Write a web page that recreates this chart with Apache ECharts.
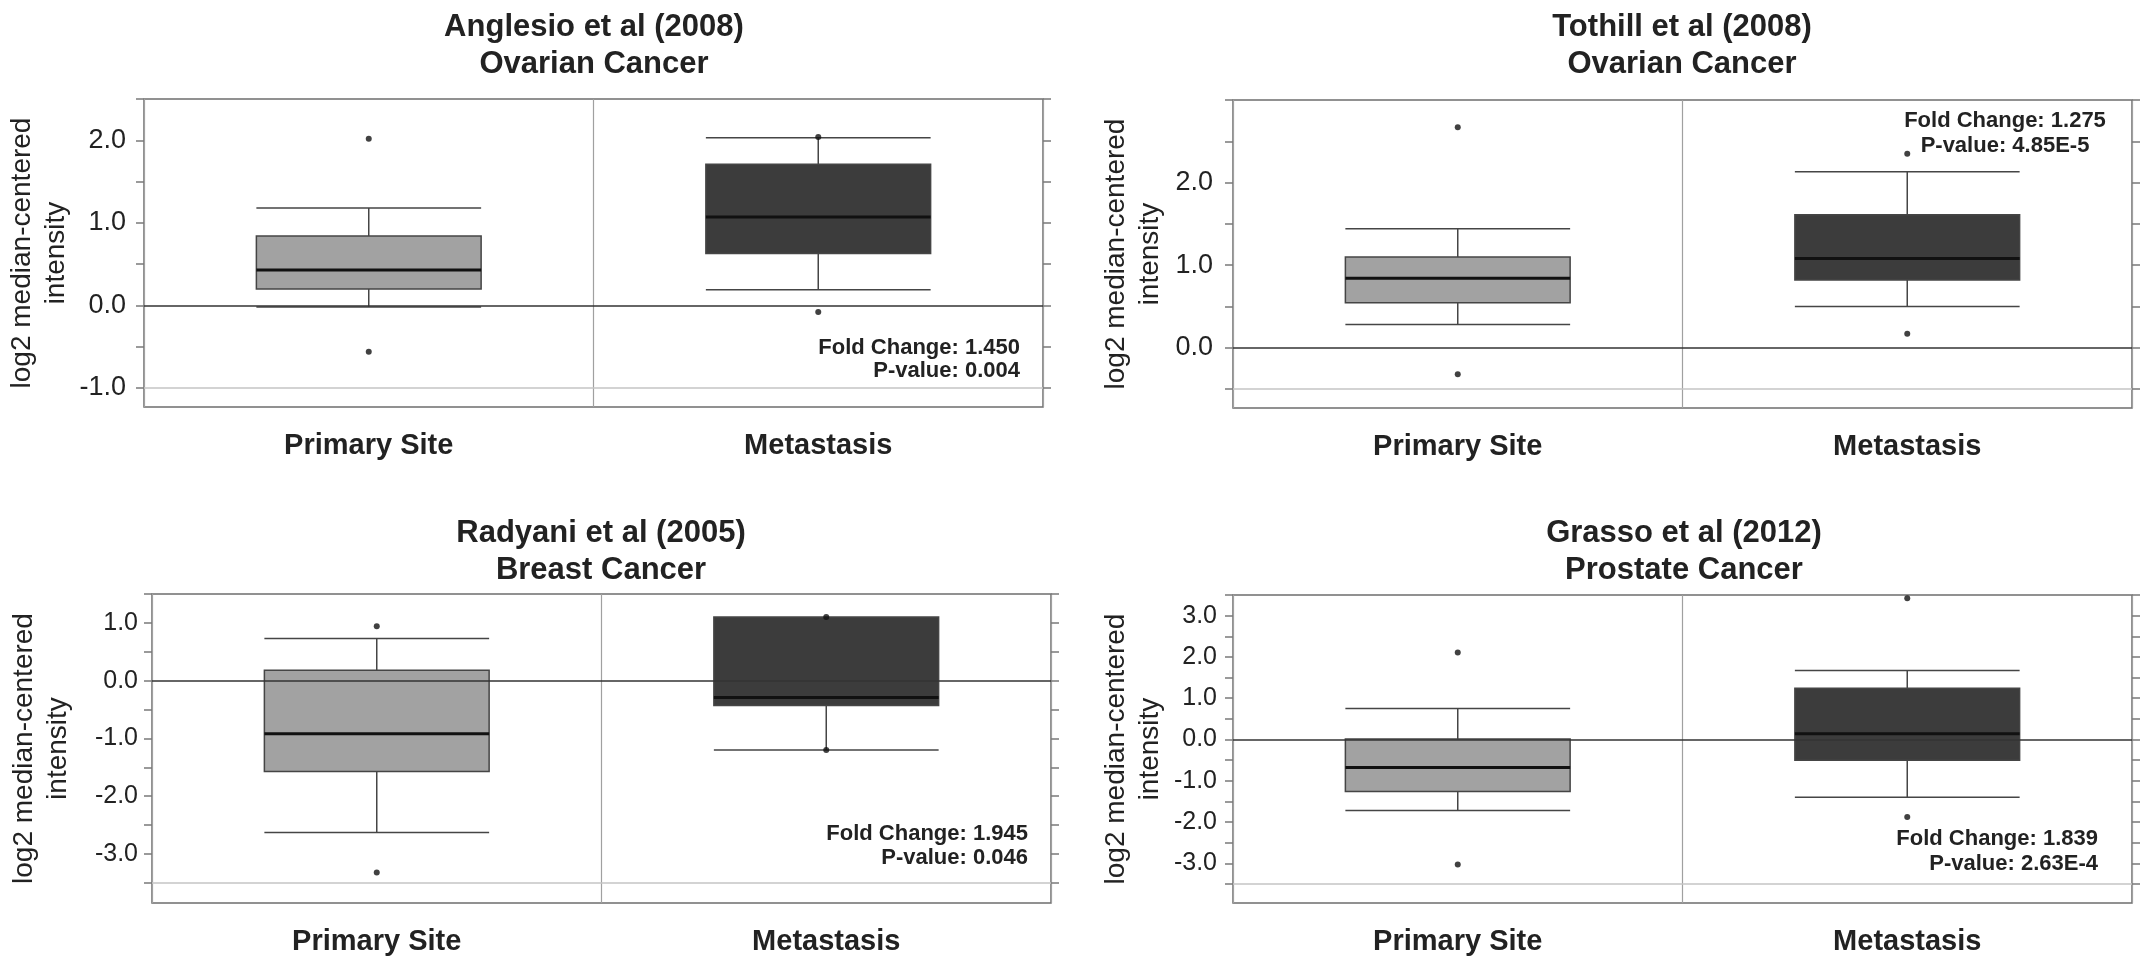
<!DOCTYPE html>
<html>
<head>
<meta charset="utf-8">
<script src="https://cdn.jsdelivr.net/npm/echarts@6/dist/echarts.min.js"></script>
<style>
  html, body { margin: 0; padding: 0; background: #ffffff; }
  #chart { width: 2150px; height: 972px; }
</style>
</head>
<body>
<div id="chart"></div>
<script>
// ---------------- data ----------------
const categories = ['Primary Site', 'Metastasis'];
const panelTitles = [
  'Anglesio et al (2008)\nOvarian Cancer',
  'Tothill et al (2008)\nOvarian Cancer',
  'Radyani et al (2005)\nBreast Cancer',
  'Grasso et al (2012)\nProstate Cancer'
];
// box values: [lower whisker, Q1, median, Q3, upper whisker]
const anglesioBoxes = [[-0.02, 0.20, 0.43, 0.84, 1.18], [0.19, 0.63, 1.07, 1.71, 2.03]];
const anglesioOutliers = [[0, 2.02], [0, -0.56], [1, 2.04], [1, -0.08]];
const tothillBoxes = [[0.28, 0.545, 0.84, 1.10, 1.44], [0.50, 0.82, 1.08, 1.61, 2.13]];
const tothillOutliers = [[0, 2.67], [0, -0.32], [1, 2.35], [1, 0.17]];
const radyaniBoxes = [[-2.63, -1.575, -0.92, 0.18, 0.73], [-1.20, -0.43, -0.29, 1.10, 1.10]];
const radyaniOutliers = [[0, 0.94], [0, -3.32], [1, 1.10], [1, -1.20]];
const grassoBoxes = [[-1.72, -1.26, -0.68, 0.01, 0.75], [-1.40, -0.50, 0.14, 1.24, 1.67]];
const grassoOutliers = [[0, 2.11], [0, -3.03], [1, 3.42], [1, -1.88]];

const foldChanges = ['1.450', '1.275', '1.945', '1.839'];
const pValues = ['0.004', '4.85E-5', '0.046', '2.63E-4'];

const yMin = [-1.23, -0.73, -3.85, -3.96];
const yMax = [2.5, 3.0, 1.5, 3.5];
const yFloor = [-1.0, -0.5, -3.5, -3.5];
const tickValues = [
  [-1.0, -0.5, 0.0, 0.5, 1.0, 1.5, 2.0, 2.5],
  [-0.5, 0.0, 0.5, 1.0, 1.5, 2.0, 2.5, 3.0],
  [-3.5, -3.0, -2.5, -2.0, -1.5, -1.0, -0.5, 0.0, 0.5, 1.0, 1.5],
  [-3.5, -3.0, -2.5, -2.0, -1.5, -1.0, -0.5, 0.0, 0.5, 1.0, 1.5, 2.0, 2.5, 3.0, 3.5]
];
const labelValues = [
  [-1.0, 0.0, 1.0, 2.0],
  [0.0, 1.0, 2.0],
  [-3.0, -2.0, -1.0, 0.0, 1.0],
  [-3.0, -2.0, -1.0, 0.0, 1.0, 2.0, 3.0]
];
const allBoxes = [anglesioBoxes, tothillBoxes, radyaniBoxes, grassoBoxes];
const allOutliers = [anglesioOutliers, tothillOutliers, radyaniOutliers, grassoOutliers];

// ---------------- layout / style ----------------
const FONT = '"Liberation Sans", Arial, Helvetica, sans-serif';
const grids = [
  { left: 144, top: 99, width: 899, height: 308 },
  { left: 1233, top: 100, width: 899, height: 308 },
  { left: 152, top: 594, width: 899, height: 309 },
  { left: 1233, top: 595, width: 899, height: 308 }
];
const tickFont = [27, 27, 25, 25];
const labelMargin = [18, 20, 14, 16];
const nameGaps = [71, 66, 77, 66];
const titlePos = [[594, 45.5], [1682, 45.5], [601, 551.5], [1684, 552]];
const foldPos = [
  { x: 1020, y: 359.5, align: 'right', lh: 23 },
  { x: 2005, y: 133.5, align: 'center', lh: 25 },
  { x: 1028, y: 846, align: 'right', lh: 24 },
  { x: 2098, y: 851.5, align: 'right', lh: 25 }
];
const boxFill = ['#a2a2a2', '#3c3c3c'];

const option = {
  animation: false,
  backgroundColor: '#ffffff',
  grid: [], xAxis: [], yAxis: [], series: [], graphic: []
};

for (let i = 0; i < 4; i++) {
  option.grid.push(Object.assign({
    show: true, borderColor: '#6e6e6e', borderWidth: 1.5,
    backgroundColor: 'transparent', containLabel: false, outerBoundsMode: 'none'
  }, grids[i]));

  option.xAxis.push({
    gridIndex: i, type: 'category', data: categories, boundaryGap: true,
    axisLine: { show: false }, axisTick: { show: false },
    splitLine: { show: true, lineStyle: { color: '#a0a0a0', width: 1.2 } },
    axisLabel: { margin: 24, fontSize: 29, fontWeight: 'bold', color: '#222', fontFamily: FONT }
  });

  option.yAxis.push({
    gridIndex: i, type: 'value', position: 'left', min: yMin[i], max: yMax[i],
    axisLine: { show: false }, splitLine: { show: false },
    axisTick: { show: true, inside: false, length: 8, customValues: tickValues[i],
                lineStyle: { color: '#7a7a7a', width: 1.5 } },
    axisLabel: { customValues: labelValues[i], formatter: v => Number(v).toFixed(1),
                 margin: labelMargin[i], fontSize: tickFont[i], color: '#222', fontFamily: FONT },
    name: 'log2 median-centered\nintensity', nameLocation: 'middle', nameRotate: 90,
    nameGap: nameGaps[i], nameMoveOverlap: false,
    nameTextStyle: { fontSize: 28, lineHeight: 34, color: '#222', fontFamily: FONT }
  });
  option.yAxis.push({
    gridIndex: i, type: 'value', position: 'right', min: yMin[i], max: yMax[i],
    axisLine: { show: false }, splitLine: { show: false },
    axisTick: { show: true, inside: false, length: 8, customValues: tickValues[i],
                lineStyle: { color: '#7a7a7a', width: 1.5 } },
    axisLabel: { show: false }
  });

  option.series.push({
    type: 'boxplot', xAxisIndex: i, yAxisIndex: 2 * i,
    boxWidth: ['50%', '50%'], silent: true, z: 2,
    emphasis: { disabled: true },
    data: allBoxes[i].map((b, k) => ({
      value: b,
      itemStyle: { color: boxFill[k], borderColor: '#454545', borderWidth: 1.5 }
    }))
  });

  option.series.push({
    type: 'custom', xAxisIndex: i, yAxisIndex: 2 * i, silent: true, z: 3,
    data: allBoxes[i].map((b, k) => [k, b[2]]),
    renderItem: function (params, api) {
      const p = api.coord([api.value(0), api.value(1)]);
      const half = api.size([1, 0])[0] * 0.25;
      return { type: 'line',
        shape: { x1: p[0] - half, y1: p[1], x2: p[0] + half, y2: p[1] },
        style: { stroke: '#111111', lineWidth: 3 } };
    }
  });

  option.series.push({
    type: 'scatter', xAxisIndex: i, yAxisIndex: 2 * i, silent: true, z: 4,
    symbolSize: 6, itemStyle: { color: '#111111' },
    data: allOutliers[i],
    markLine: {
      silent: true, symbol: ['none', 'none'], label: { show: false },
      animation: false,
      data: [
        { yAxis: 0, lineStyle: { color: '#333333', width: 1.5, type: 'solid' } },
        { yAxis: yFloor[i], lineStyle: { color: '#c4c4c4', width: 1.5, type: 'solid' } }
      ]
    }
  });

  option.graphic.push({
    type: 'text', x: titlePos[i][0], y: titlePos[i][1], silent: true,
    style: { text: panelTitles[i], align: 'center', verticalAlign: 'middle',
             fontSize: 31, fontWeight: 'bold', fontFamily: FONT, lineHeight: 37, fill: '#222' }
  });
  option.graphic.push({
    type: 'text', x: foldPos[i].x, y: foldPos[i].y, silent: true,
    style: { text: 'Fold Change: ' + foldChanges[i] + '\nP-value: ' + pValues[i],
             align: foldPos[i].align, verticalAlign: 'middle',
             fontSize: 22, fontWeight: 'bold', fontFamily: FONT, lineHeight: foldPos[i].lh, fill: '#222' }
  });
}

const chart = echarts.init(document.getElementById('chart'), null, { renderer: 'canvas' });
chart.setOption(option);
</script>
</body>
</html>
